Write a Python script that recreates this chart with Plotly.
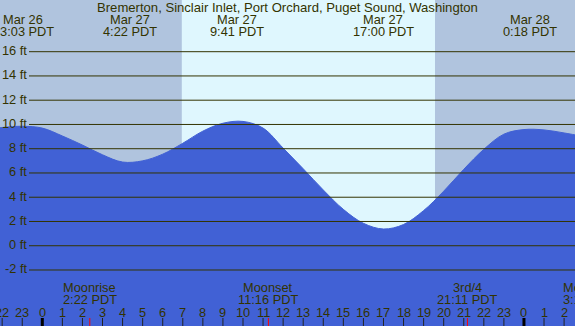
import plotly.graph_objects as go

# ---------------- data ----------------
title_text = "Bremerton, Sinclair Inlet, Port Orchard, Puget Sound, Washington"

# hourly tide heights (ft), hour 0 = Mar 27 00:00 PDT
hours = list(range(-3, 28))
heights = [9.55, 9.75, 9.85, 9.7, 9.05, 8.3, 7.5, 6.9, 7.0, 7.55, 8.45, 9.45,
           10.1, 10.25, 9.7, 8.05, 6.35, 4.6, 3.0, 1.85, 1.38, 1.75, 2.9, 4.5,
           6.3, 7.95, 9.2, 9.58, 9.55, 9.3, 9.0]

# tide extremes (top labels)
ext_dates = ["Mar 26", "Mar 27", "Mar 27", "Mar 27", "Mar 28"]
ext_times = ["23:03", "4:22", "9:41", "17:00", "0:18"]
ext_days = [-1, 0, 0, 0, 1]

# moon events (bottom labels)
moon_names = ["Moonrise", "Moonset", "3rd/4", "Moonrise"]
moon_times = ["2:22", "11:16", "21:11", "3:17"]
moon_days = [0, 0, 0, 1]

# sun
sunrise = "6:57"
sunset = "19:34"

# y grid levels
grid_levels = [-2, 0, 2, 4, 6, 8, 10, 12, 14, 16]
hour_ticks = list(range(-2, 27))

# ---------------- style ----------------
W, H = 575, 326
NIGHT = "#b0c4de"
DAY = "#dff7fe"
WATER = "#4161d5"
INK = "#333300"
FONT = "Liberation Sans"
FS = 12.8
FS_TITLE = 13.1
X_RANGE = [-2.108, 26.543]
Y_RANGE = [-6.618, 20.262]


def to_hours(t, day=0):
    hh, mm = t.split(":")
    return day * 24 + int(hh) + int(mm) / 60.0


def ypaper(px):
    return 1 - px / H


def xpaper(h):
    return (h - X_RANGE[0]) / (X_RANGE[1] - X_RANGE[0])


fig = go.Figure()
fig.add_trace(go.Scatter(x=hours, y=[-10] * len(hours), mode="lines",
                         line=dict(width=0, color=WATER), hoverinfo="skip"))
fig.add_trace(go.Scatter(x=hours, y=heights, mode="lines", fill="tonexty",
                         fillcolor=WATER, line=dict(width=1, color=WATER, shape="spline", smoothing=1),
                         hoverinfo="skip"))

shapes = []
# daylight
shapes.append(dict(type="rect", xref="x", yref="paper", x0=to_hours(sunrise), x1=to_hours(sunset),
                   y0=0, y1=1, fillcolor=DAY, line=dict(width=0), layer="below"))
# grid lines
for g in grid_levels:
    shapes.append(dict(type="line", xref="paper", yref="y", x0=29 / W, x1=1, y0=g, y1=g,
                       line=dict(color=INK, width=1), layer="above"))
# hour ticks
for h in hour_ticks:
    major = (h % 24 == 0)
    shapes.append(dict(type="line", xref="x", yref="paper", x0=h, x1=h, y0=0, y1=8 / H,
                       line=dict(color="#000000" if major else "#222222", width=3 if major else 1),
                       layer="above"))
# moon event ticks
for n, t, d in zip(moon_names, moon_times, moon_days):
    hx = to_hours(t, d)
    shapes.append(dict(type="line", xref="x", yref="paper", x0=hx, x1=hx, y0=0, y1=8 / H,
                       line=dict(color="#ff0000", width=1), layer="above"))

ann = []
font = dict(family=FONT, size=FS, color=INK)
ann.append(dict(text=title_text, xref="paper", yref="paper", x=0.5, y=ypaper(7.2),
                xanchor="center", yanchor="middle", showarrow=False,
                font=dict(family=FONT, size=FS_TITLE, color=INK)))
for dte, t, d in zip(ext_dates, ext_times, ext_days):
    hx = to_hours(t, d)
    ann.append(dict(text=dte, xref="paper", yref="paper", x=xpaper(hx), y=ypaper(19.5),
                    xanchor="center", yanchor="middle", showarrow=False, font=font))
    ann.append(dict(text=t + " PDT", xref="paper", yref="paper", x=xpaper(hx), y=ypaper(31.2),
                    xanchor="center", yanchor="middle", showarrow=False, font=font))
for n, t, d in zip(moon_names, moon_times, moon_days):
    hx = to_hours(t, d)
    ann.append(dict(text=n, xref="paper", yref="paper", x=xpaper(hx), y=ypaper(287.2),
                    xanchor="center", yanchor="middle", showarrow=False, font=font))
    ann.append(dict(text=t + " PDT", xref="paper", yref="paper", x=xpaper(hx), y=ypaper(299.7),
                    xanchor="center", yanchor="middle", showarrow=False, font=font))
for h in hour_ticks:
    ann.append(dict(text=str(h % 24), xref="paper", yref="paper", x=xpaper(h), y=ypaper(312),
                    xanchor="center", yanchor="middle", showarrow=False, font=font))
for g in grid_levels:
    ann.append(dict(text=f"{g} ft", xref="paper", yref="y", x=29 / W, y=g, yshift=1,
                    xanchor="right", yanchor="middle", showarrow=False, font=font))

fig.update_layout(
    width=W, height=H, margin=dict(l=0, r=0, t=0, b=0, pad=0),
    paper_bgcolor=NIGHT, plot_bgcolor=NIGHT, showlegend=False,
    xaxis=dict(range=X_RANGE, visible=False, fixedrange=True),
    yaxis=dict(range=Y_RANGE, visible=False, fixedrange=True),
    shapes=shapes, annotations=ann,
)
fig.write_html("out.html", config=dict(displayModeBar=False),
               post_script="document.body.style.margin='0';document.body.style.overflow='hidden';")
